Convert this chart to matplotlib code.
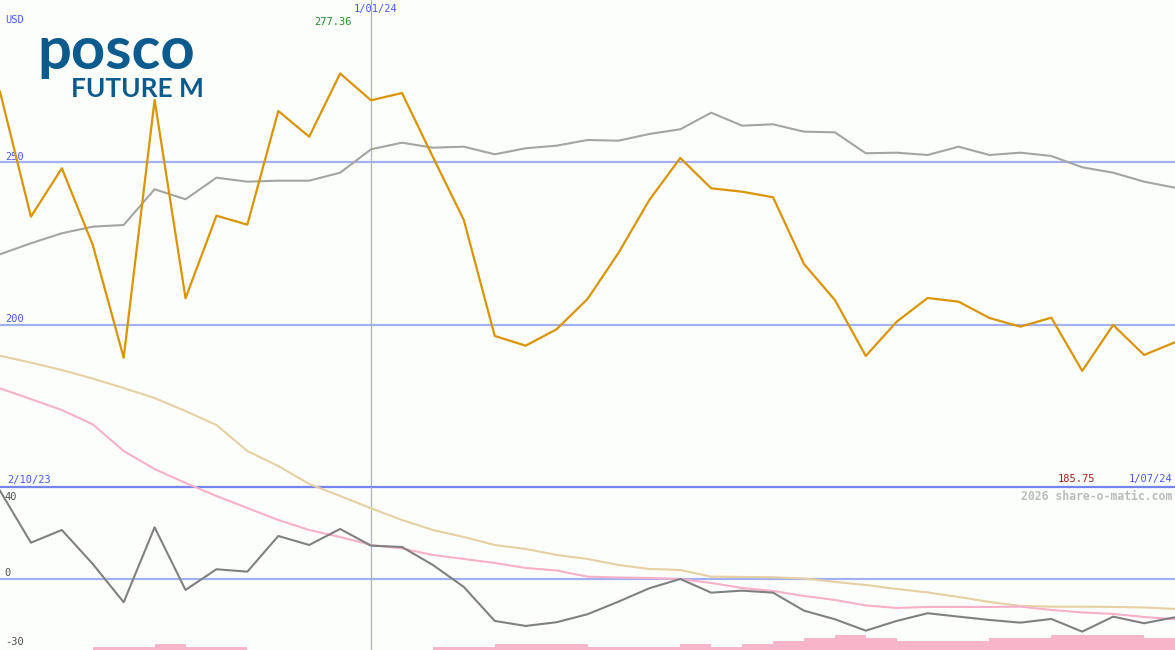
import matplotlib
matplotlib.use("Agg")
import matplotlib.pyplot as plt
import numpy as np

# ---------------- data ----------------
date_start = "2/10/23"
date_mark = "1/01/24"
date_end = "1/07/24"
mark_index = 12

price = [271.76, 233.26, 248.17, 224.55, 189.84, 269.2, 208.13, 233.57, 230.8, 265.81,
         257.9, 277.36, 269.1, 271.36, 251.65, 232.24, 196.52, 193.53, 198.58, 207.91,
         222.08, 238.4, 251.34, 242.0, 240.96, 239.24, 218.69, 207.6, 190.36, 200.92,
         208.22, 207.08, 202.06, 199.38, 202.15, 185.75, 199.91, 190.67, 194.58]

price_ma = [221.68, 225.07, 228.15, 230.18, 230.7, 241.7, 238.62, 245.27, 244.04, 244.35,
            244.35, 246.81, 254.02, 256.05, 254.51, 254.82, 252.48, 254.33, 255.13, 256.88,
            256.67, 258.73, 260.18, 265.29, 261.29, 261.72, 259.44, 259.25, 252.79, 252.97,
            252.26, 254.82, 252.26, 252.97, 251.96, 248.47, 246.81, 244.04, 242.19]

oscillator = [38.1, 15.58, 21.08, 6.36, -10.22, 22.25, -4.89, 4.07, 3.03, 18.48,
              14.59, 21.52, 14.29, 13.72, 5.93, -3.59, -18.31, -20.48, -18.87, -15.41,
              -9.96, -4.16, -0.13, -6.06, -5.19, -6.06, -13.85, -17.58, -22.51, -18.31,
              -14.98, -16.45, -17.88, -19.05, -17.45, -22.94, -16.45, -19.31, -16.71]

osc_ma_short = [82.42, 77.79, 73.03, 66.84, 55.28, 47.49, 41.43, 35.8, 30.61, 25.41,
                21.08, 18.05, 14.59, 13.07, 10.26, 8.53, 6.8, 4.63, 3.55, 0.87,
                0.52, 0.3, -0.13, -1.86, -4.03, -5.32, -7.49, -9.22, -11.6, -12.68,
                -12.25, -12.25, -12.25, -12.12, -13.55, -14.63, -15.28, -16.58, -17.58]

osc_ma_long = [96.54, 93.59, 90.35, 86.67, 82.55, 78.23, 72.6, 66.54, 55.28, 48.79,
               41.0, 35.8, 30.48, 25.41, 21.08, 18.05, 14.59, 12.86, 10.26, 8.53,
               5.93, 4.2, 3.77, 0.87, 0.74, 0.61, 0.09, -1.43, -2.73, -4.46,
               -5.97, -7.92, -10.09, -11.82, -12.12, -12.12, -12.25, -12.47, -13.12]

volume = [0, 0, 0, 1, 1, 2, 1, 1, 0, 0, 0, 0, 0, 0, 1, 1, 2, 2, 2, 1,
          1, 1, 2, 1, 2, 3, 4, 5, 4, 3, 3, 3, 4, 4, 5, 5, 5, 4, 0]

price_grid = [250, 200]
osc_ticks = [40, 0, -30]

# ---------------- style ----------------
BG = "#FCFEFC"
GRID = "#A3B1F2"
DIVIDER = "#7585F0"
BLUE_TXT = "#4858F0"
MONO = "DejaVu Sans Mono"

W, H = 1175, 650
fig = plt.figure(figsize=(W / 100, H / 100), dpi=100, facecolor=BG)

split = (H - 487) / H
ax = fig.add_axes([0, split, 1, 1 - split], facecolor="none")
axl = fig.add_axes([0, 0, 1, split], facecolor="none")
axv = fig.add_axes([0, 0, 1, split], facecolor="none")

n = len(price)
x = np.arange(n)
for a in (ax, axl, axv):
    a.set_xlim(0, n - 1)
    a.set_axis_off()

ax.set_ylim(150, 300)
axl.set_ylim(-30.9, 39.7)
axv.set_ylim(0, 163 / 3)

# grid lines top
for g in price_grid:
    ax.axhline(g, color=GRID, lw=1.6, zorder=1)
    ax.annotate(str(g), xy=(0, g), xycoords=("axes fraction", "data"),
                xytext=(3.5, 0.5), textcoords="offset points", va="bottom", ha="left",
                fontsize=7.5, family=MONO, color=BLUE_TXT)
ax.annotate("USD", xy=(0, 1), xycoords="axes fraction", xytext=(3.5, -14.5),
            textcoords="offset points", va="center", ha="left",
            fontsize=7.5, family=MONO, color=BLUE_TXT)

# lower zero line
axl.axhline(0, color=GRID, lw=1.6, zorder=1)
for t in osc_ticks:
    axl.annotate(str(t), xy=(0, t), xycoords=("axes fraction", "data"),
                 xytext=(3.5, 0.5 if t != 40 else -11), textcoords="offset points",
                 va="bottom", ha="left", fontsize=7.5, family=MONO, color="#505050")

# vertical date marker
ax.axvline(mark_index, color=GRID, lw=0.9, zorder=1)
axl.axvline(mark_index, color=GRID, lw=0.9, zorder=1)

# divider
ax.axhline(150, color=DIVIDER, lw=1.6, zorder=5, clip_on=False)

# lines
ax.plot(x, price_ma, color="#A4A4A4", lw=1.5, zorder=3)
ax.plot(x, price, color="#D99400", lw=1.6, zorder=4)

axl.plot(x, osc_ma_long, color="#E6CFA2", lw=1.5, zorder=2, clip_on=False)
axl.plot(x, osc_ma_short, color="#F8B0C8", lw=1.5, zorder=2, clip_on=False)
axl.plot(x, oscillator, color="#808080", lw=1.5, zorder=3)

axv.bar(x, volume, width=1.0, align="edge", color="#F8B4C8", lw=0, zorder=1)

# date labels
imax = int(np.argmax(price))
imin = int(np.argmin(price))
ax.annotate(date_mark, xy=(mark_index, 300), xycoords="data", xytext=(3, -6.5),
            textcoords="offset points", ha="center", va="center",
            fontsize=7.5, family=MONO, color=BLUE_TXT)
ax.annotate(f"{price[imax]:.2f}", xy=(imax, 300), xycoords="data", xytext=(-5, -15.5),
            textcoords="offset points", ha="center", va="center",
            fontsize=7.5, family=MONO, color="#209020")
ax.annotate(date_start, xy=(0, 150), xycoords="data", xytext=(5, 5),
            textcoords="offset points", ha="left", va="center",
            fontsize=7.5, family=MONO, color=BLUE_TXT)
ax.annotate(f"{price[imin]:.2f}", xy=(imin, 150), xycoords="data", xytext=(-4, 6),
            textcoords="offset points", ha="center", va="center",
            fontsize=7.5, family=MONO, color="#A02020")
ax.annotate(date_end, xy=(n - 1, 150), xycoords="data", xytext=(-2, 6),
            textcoords="offset points", ha="right", va="center",
            fontsize=7.5, family=MONO, color=BLUE_TXT)
ax.annotate("2026 share-o-matic.com", xy=(1, 150), xycoords=("axes fraction", "data"),
            xytext=(-2, -6.5), textcoords="offset points", ha="right", va="center",
            fontsize=8.3, family=MONO, weight="bold", color="#BBBBBB")

# logo
LOGO = "#0B5B8E"
fig.text(37 / W, 1 - 69 / H, "posco", fontsize=43, family="Lato", weight="bold",
         color=LOGO, ha="left", va="baseline")
fig.text(71 / W, 1 - 97 / H, "FUTURE M", fontsize=19, family="Lato", weight="bold",
         color=LOGO, ha="left", va="baseline")

fig.savefig("out.png", dpi=100, facecolor=BG)
